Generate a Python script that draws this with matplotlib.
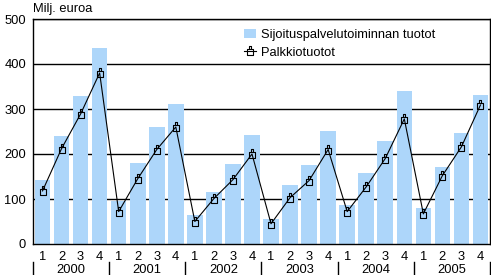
import matplotlib
matplotlib.use("Agg")
import matplotlib.pyplot as plt
from matplotlib.path import Path
from matplotlib.transforms import blended_transform_factory
import numpy as np

plt.rcParams['font.family'] = ['Liberation Sans', 'DejaVu Sans']

years = ['2000', '2001', '2002', '2003', '2004', '2005']
quarters = ['1', '2', '3', '4']
sijoitus = [143, 240, 328, 436,
            96, 181, 261, 312,
            65, 116, 177, 243,
            56, 132, 176, 252,
            87, 158, 230, 340,
            81, 172, 247, 332]
palkkio = [118, 212, 289, 380,
           72, 145, 210, 260,
           50, 101, 143, 200,
           45, 103, 141, 210,
           72, 127, 190, 278,
           67, 152, 216, 309]
yticks = [0, 100, 200, 300, 400, 500]

FS = 9.3
W, H = 491, 275
fig = plt.figure(figsize=(W / 100, H / 100), dpi=100)
ax = fig.add_axes([33 / W, 1 - 244 / H, (490 - 33) / W, (244 - 19) / H])

n = len(sijoitus)
x = np.arange(n)
bars = ax.bar(x, sijoitus, width=0.82, color='#ADD6FA', zorder=2,
              label='Sijoituspalvelutoiminnan tuotot')

verts = [(-1, -1.2), (1, -1.2), (1, 0.6), (-1, 0.6), (-1, -1.2),
         (-0.45, 0.6), (-0.45, 1.4), (0.45, 1.4), (0.45, 0.6)]
codes = [Path.MOVETO, Path.LINETO, Path.LINETO, Path.LINETO, Path.CLOSEPOLY,
         Path.MOVETO, Path.LINETO, Path.LINETO, Path.LINETO]
lock = Path(verts, codes)
line, = ax.plot(x, palkkio, color='black', lw=0.8, marker=lock, markersize=6.5,
                markerfacecolor='none', markeredgecolor='black',
                markeredgewidth=0.8, zorder=3, label='Palkkiotuotot')

ax.set_xlim(-0.5, n - 0.5)
ax.set_ylim(0, 500)
ax.set_yticks(yticks)
ax.set_yticklabels([str(v) for v in yticks], fontsize=FS)
ax.tick_params(axis='y', length=0, pad=5)
for v in yticks[1:]:
    ax.axhline(v, color='black', lw=1, zorder=1)

ax.set_xticks(x)
ax.set_xticklabels(quarters * len(years), fontsize=FS)
ax.tick_params(axis='x', length=0, pad=5)

for s in ['left', 'bottom', 'right', 'top']:
    ax.spines[s].set_color('black')
    ax.spines[s].set_linewidth(1)

tr = blended_transform_factory(ax.transData, fig.transFigure)
for i, yr in enumerate(years):
    ax.text(i * 4 + 1.5, 1 - 270 / H, yr, transform=tr, ha='center',
            va='center', fontsize=FS, clip_on=False)
for i in range(len(years) + 1):
    xb = i * 4 - 0.5
    ax.plot([xb, xb], [1 - 262 / H, 1 - 275 / H], transform=tr, color='black',
            lw=1, clip_on=False)

fig.text(33 / W, 1 - 9 / H, 'Milj. euroa', fontsize=FS, va='center', ha='left')

ax.legend(handles=[bars, line], loc='upper left',
          bbox_to_anchor=(235 / W, 1 - 20 / H),
          bbox_transform=fig.transFigure, frameon=False, fontsize=FS,
          handlelength=0.9, handletextpad=0.4, labelspacing=0.45,
          borderpad=0.2)

fig.savefig('out.png', dpi=100)
